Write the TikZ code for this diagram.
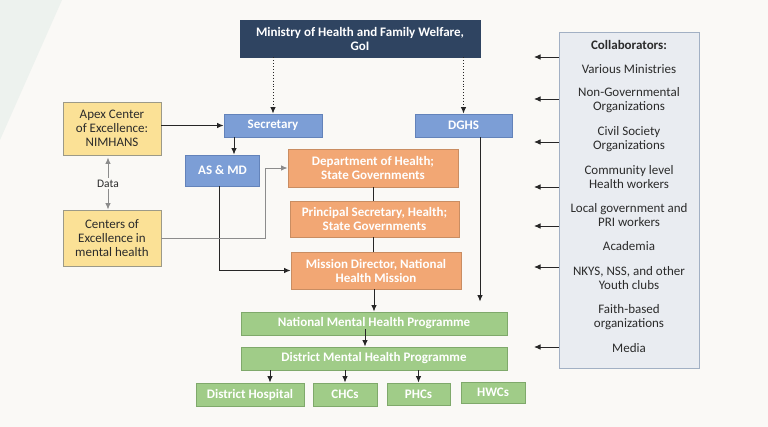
\documentclass[tikz,border=0pt]{standalone}
\usepackage{fontspec}
\setmainfont{Carlito}
\usetikzlibrary{arrows.meta}
\definecolor{bgcol}{HTML}{FAF9F6}
\definecolor{bgleaf}{HTML}{EDF2EE}
\definecolor{navyfill}{HTML}{2F4461}
\definecolor{bluefill}{HTML}{7C9ED6}
\definecolor{blueline}{HTML}{6383BA}
\definecolor{orangefill}{HTML}{F2A774}
\definecolor{orangeline}{HTML}{C98D62}
\definecolor{greenfill}{HTML}{A0CC88}
\definecolor{greenline}{HTML}{7FA96B}
\definecolor{yellowfill}{HTML}{FBE196}
\definecolor{yellowline}{HTML}{9C9A88}
\definecolor{collabfill}{HTML}{E9ECF1}
\definecolor{collabline}{HTML}{A2B0C4}
\definecolor{inktext}{HTML}{2B2B2B}
\tikzset{
  every picture/.style={
    line width=0.9pt,
    >={Latex[width=5.5pt, length=6.5pt]}
  },
  box/.style={
    rectangle, draw, inner sep=0pt, align=center,
    font=\bfseries\fontsize{13}{14}\selectfont
  },
  navybox/.style={box, fill=navyfill, draw=navyfill, text=white},
  bluebox/.style={box, fill=bluefill, draw=blueline, text=white},
  orangebox/.style={box, fill=orangefill, draw=orangeline, text=white},
  greenbox/.style={box, fill=greenfill, draw=greenline, text=white},
  yellowbox/.style={box, fill=yellowfill, draw=yellowline, text=inktext,
    font=\fontsize{13}{14}\selectfont}
}

\begin{document}
\begin{tikzpicture}[
    x=1pt, y=-1pt,
    link/.style={draw=black!85, ->},
    graylink/.style={draw=black!45},
    item/.style={align=center, text=inktext, inner sep=0pt,
      font=\fontsize{13}{14}\selectfont}
  ]
  \useasboundingbox (0,0) rectangle (768,427);
  \fill[bgcol] (0,0) rectangle (768,427);
  \fill[bgleaf] (0,0) -- (62,0) -- (0,140) -- cycle;

  % central chain
  \node[navybox, minimum width=240, minimum height=37] (min) at (360,38.5)
    {Ministry of Health and Family Welfare,\\GoI};
  \node[bluebox, minimum width=98, minimum height=23] (sec) at (273,125.5) {Secretary};
  \node[bluebox, minimum width=97, minimum height=23] (dghs) at (463.5,125.5) {DGHS};
  \node[bluebox, minimum width=74, minimum height=31] (asmd) at (222.5,170.5) {AS \& MD};
  \node[orangebox, minimum width=170, minimum height=38] (dept) at (373,168)
    {Department of Health;\\State Governments};
  \node[orangebox, minimum width=169, minimum height=36] (psec) at (374.5,219)
    {Principal Secretary, Health;\\State Governments};
  \node[orangebox, minimum width=170, minimum height=37] (mdir) at (376,270.5)
    {Mission Director, National\\Health Mission};
  \node[greenbox, minimum width=266, minimum height=23] (nmhp) at (374,323.5)
    {National Mental Health Programme};
  \node[greenbox, minimum width=266, minimum height=23] (dmhp) at (374,358.5)
    {District Mental Health Programme};
  \node[greenbox, minimum width=108, minimum height=23] (dh) at (250,394.5) {District Hospital};
  \node[greenbox, minimum width=64, minimum height=23] (chc) at (345,394.5) {CHCs};
  \node[greenbox, minimum width=63, minimum height=22] (phc) at (418.5,394) {PHCs};
  \node[greenbox, minimum width=64, minimum height=21] (hwc) at (493,392.5) {HWCs};

  % centres of excellence
  \node[yellowbox, minimum width=98, minimum height=53] (apex) at (112,128.5)
    {Apex Center\\of Excellence:\\NIMHANS};
  \node[yellowbox, minimum width=98, minimum height=56] (coe) at (112,238)
    {Centers of\\Excellence in\\mental health};

  % collaborators
  \node[rectangle, draw=collabline, fill=collabfill, minimum width=140,
    minimum height=336] (collab) at (629,200) {};
  \node[item, font=\bfseries\fontsize{13}{14}\selectfont] (col0) at (629,45) {Collaborators:};
  \foreach \y/\t [count=\i] in {69/Various Ministries,
      100/{Non-Governmental\\Organizations},
      139/{Civil Society\\Organizations},
      177/{Community level\\Health workers},
      215.5/{Local government and\\PRI workers},
      246/Academia,
      278/{NKYS, NSS, and other\\Youth clubs},
      317/{Faith-based\\organizations},
      348/Media}
    \node[item] (col\i) at (629,\y) {\t};
  \foreach \y [count=\i] in {57,99,142,187,226,267,347} {
    \coordinate (tip\i) at (534,\y);
    \draw[link] (collab.west |- tip\i) -- (tip\i);
  }

  % connectors
  \draw[link, dotted] (min.south -| sec.north) -- (sec.north);
  \draw[link, dotted] (min.south -| dghs.north) -- (dghs.north);
  \draw[link] (apex.east |- sec.west) -- (sec.west);
  \draw[link] ([xshift=-39pt]sec.south) -- ([xshift=-39pt]sec.south |- asmd.north);
  \draw[link] ([xshift=-3.5pt]asmd.south) |- (mdir.west);
  \draw[graylink, ->] (coe.east) -| ([xshift=-22pt]dept.west) -- (dept.west);
  \draw[graylink, <->] ([xshift=-4pt,yshift=-2pt]apex.south)
    -- node[fill=bgcol, inner sep=1.5pt, text=inktext,
      font=\fontsize{11.5}{12}\selectfont] (data) {Data}
    ([xshift=-4pt]coe.north);
  \draw[black!85] (dept.south) -- (dept.south |- psec.north);
  \draw[black!85] (dept.south |- psec.south) -- (dept.south |- mdir.north);
  \draw[link] (mdir.south -| nmhp.north) -- (nmhp.north);
  \draw[link] ([xshift=16.5pt]dghs.south) -- ([xshift=16.5pt,yshift=10pt]dghs.south |- nmhp.north);
  \draw[link] ([xshift=-9pt,yshift=6pt]nmhp.south) -- ([xshift=-9pt]dmhp.north);
  \path ([xshift=20pt]dh.north) coordinate (dhtop);
  \draw[link] (dmhp.south -| dhtop) -- (dhtop);
  \draw[link] (dmhp.south -| chc.north) -- (chc.north);
  \draw[link] (dmhp.south -| phc.north) -- (phc.north);
\end{tikzpicture}
\end{document}
